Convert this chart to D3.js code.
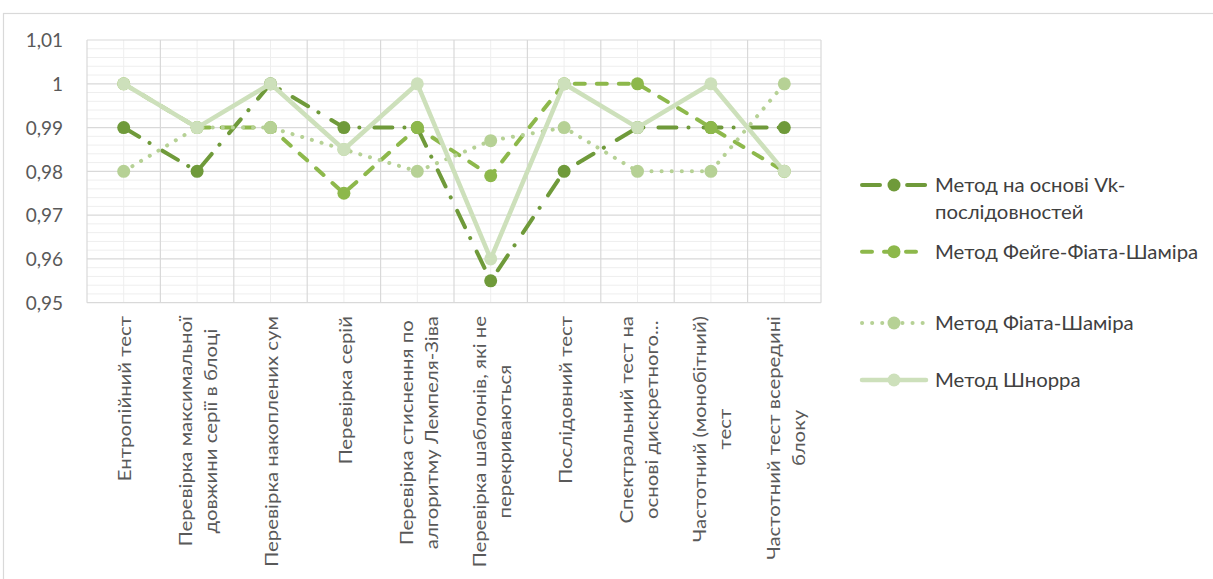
<!DOCTYPE html>
<html>
<head>
<meta charset="utf-8">
<script src="https://cdn.jsdelivr.net/npm/d3@7"></script>
<style>
  html, body { margin: 0; padding: 0; background: #ffffff; }
  svg { display: block; }
  text { font-family: Lato, "Open Sans", sans-serif; }
</style>
</head>
<body>
<svg id="chart" width="1213" height="579"></svg>
<script>
// Test names (line breaks mark where the axis label wraps)
const categories = [
  "Ентропійний тест",
  "Перевірка максимальної\nдовжини серії в блоці",
  "Перевірка накоплених сум",
  "Перевірка серій",
  "Перевірка стиснення по\nалгоритму Лемпеля-Зіва",
  "Перевірка шаблонів, які не\nперекриваються",
  "Послідовний тест",
  "Спектральний тест на\nоснові дискретного...",
  "Частотний (монобітний)\nтест",
  "Частотний тест всередині\nблоку"
];

const seriesNames = [
  "Метод на основі Vk-\nпослідовностей",
  "Метод Фейге-Фіата-Шаміра",
  "Метод Фіата-Шаміра",
  "Метод Шнорра"
];

const vkValues      = [0.99, 0.98, 1.00, 0.99,  0.99, 0.955, 0.98, 0.99, 0.99, 0.99];
const ffsValues     = [1.00, 0.99, 0.99, 0.975, 0.99, 0.979, 1.00, 1.00, 0.99, 0.98];
const fsValues      = [0.98, 0.99, 0.99, 0.985, 0.98, 0.987, 0.99, 0.98, 0.98, 1.00];
const schnorrValues = [1.00, 0.99, 1.00, 0.985, 1.00, 0.96,  1.00, 0.99, 1.00, 0.98];

const yTicks = [0.95, 0.96, 0.97, 0.98, 0.99, 1.00, 1.01];

// Drawing styles per series
const styles = [
  { color: "#6f9a3a", width: 4,   dash: "18,12,0.1,15", cap: "round" },
  { color: "#8db84b", width: 4,   dash: "10,12",        cap: "round" },
  { color: "#b6d195", width: 4,   dash: "0.1,10",       cap: "round" },
  { color: "#cde0bb", width: 4.5, dash: null,           cap: "round" }
];

const seriesValues = [vkValues, ffsValues, fsValues, schnorrValues];
const series = seriesNames.map((name, i) => ({
  name, values: seriesValues[i], style: styles[i]
}));

const svg = d3.select("#chart");

// Outer chart frame
svg.append("rect")
  .attr("x", 3.5).attr("y", 13.5)
  .attr("width", 1260).attr("height", 600)
  .attr("fill", "#ffffff")
  .attr("stroke", "#d9d9d9").attr("stroke-width", 1.2);

const plot = { left: 87, right: 821, top: 40, bottom: 302.7 };

const x = d3.scaleBand()
  .domain(d3.range(categories.length))
  .range([plot.left, plot.right])
  .paddingInner(0).paddingOuter(0);
const cx = i => x(i) + x.bandwidth() / 2;

const y = d3.scaleLinear()
  .domain([0.95, 1.01])
  .range([plot.bottom, plot.top]);

const grid = svg.append("g");

// Minor horizontal gridlines every 0.002
const minorY = d3.range(0, 31).map(k => 0.95 + k * 0.002)
  .filter(v => !yTicks.some(t => Math.abs(t - v) < 1e-9));
grid.selectAll("line.hminor").data(minorY).join("line")
  .attr("x1", plot.left).attr("x2", plot.right)
  .attr("y1", d => y(d)).attr("y2", d => y(d))
  .attr("stroke", "#eeeeee").attr("stroke-width", 1);

// Minor vertical gridlines at category centres
grid.selectAll("line.vminor").data(d3.range(categories.length)).join("line")
  .attr("x1", d => cx(d)).attr("x2", d => cx(d))
  .attr("y1", plot.top).attr("y2", plot.bottom)
  .attr("stroke", "#eeeeee").attr("stroke-width", 1);

// Major horizontal gridlines
grid.selectAll("line.hmajor").data(yTicks).join("line")
  .attr("x1", plot.left).attr("x2", plot.right)
  .attr("y1", d => y(d)).attr("y2", d => y(d))
  .attr("stroke", "#d9d9d9").attr("stroke-width", 1.2);

// Major vertical gridlines at category boundaries
grid.selectAll("line.vmajor").data(d3.range(categories.length + 1)).join("line")
  .attr("x1", d => plot.left + d * x.bandwidth()).attr("x2", d => plot.left + d * x.bandwidth())
  .attr("y1", plot.top).attr("y2", plot.bottom)
  .attr("stroke", "#d9d9d9").attr("stroke-width", 1.2);

// Y axis labels
const yAxis = d3.axisLeft(y)
  .tickValues(yTicks)
  .tickSize(0)
  .tickPadding(0)
  .tickFormat(d => d3.format(".2~f")(d).replace(".", ","));
const yAxisG = svg.append("g")
  .attr("transform", `translate(63,0)`)
  .call(yAxis);
yAxisG.select(".domain").remove();
yAxisG.selectAll("text")
  .attr("font-size", 19)
  .attr("fill", "#595959")
  .attr("dy", "0.35em")
  .style("font-family", "Lato, sans-serif");

// X axis labels, rotated, top-aligned under the plot; the glyphs are
// drawn slightly elongated along the reading direction
const labelTop = 316;
const labelFont = 17;
const labelStretch = 1.2;
const lineGap = 25;
const xLabels = svg.append("g");
categories.forEach((cat, i) => {
  const lines = cat.split("\n");
  const g = xLabels.append("g")
    .attr("transform", `translate(${cx(i)},${labelTop}) rotate(-90) scale(${labelStretch},1)`);
  const texts = lines.map((ln, j) => g.append("text")
    .attr("font-size", labelFont)
    .attr("fill", "#595959")
    .attr("text-anchor", "middle")
    .attr("dominant-baseline", "central")
    .attr("y", (j - (lines.length - 1) / 2) * lineGap + 1)
    .text(ln));
  const maxLen = d3.max(texts, t => t.node().getComputedTextLength());
  texts.forEach(t => t.attr("x", -maxLen / 2));
});

// Series lines and markers
const line = d3.line()
  .x((d, i) => cx(i))
  .y(d => y(d));

series.forEach(s => {
  const g = svg.append("g");
  g.append("path")
    .datum(s.values)
    .attr("d", line)
    .attr("fill", "none")
    .attr("stroke", s.style.color)
    .attr("stroke-width", s.style.width)
    .attr("stroke-linecap", s.style.cap)
    .attr("stroke-linejoin", "round")
    .attr("stroke-dasharray", s.style.dash);
  g.selectAll("circle").data(s.values).join("circle")
    .attr("cx", (d, i) => cx(i))
    .attr("cy", d => y(d))
    .attr("r", 6.5)
    .attr("fill", s.style.color);
});

// Legend
const legendRows = [185, 251.7, 323, 380];
const legend = svg.append("g");
series.forEach((s, i) => {
  const ly = legendRows[i];
  const g = legend.append("g");
  g.append("line")
    .attr("x1", 862).attr("x2", 926)
    .attr("y1", ly).attr("y2", ly)
    .attr("stroke", s.style.color)
    .attr("stroke-width", s.style.width)
    .attr("stroke-linecap", s.style.cap)
    .attr("stroke-dasharray", s.style.dash);
  g.append("circle")
    .attr("cx", 894).attr("cy", ly).attr("r", 6.5)
    .attr("fill", s.style.color);
  s.name.split("\n").forEach((ln, j) => {
    g.append("text")
      .attr("transform", `translate(935,${ly + j * 26.7}) scale(1.1,1)`)
      .attr("dominant-baseline", "central")
      .attr("font-size", 18.5)
      .attr("fill", "#404040")
      .text(ln);
  });
});
</script>
</body>
</html>
